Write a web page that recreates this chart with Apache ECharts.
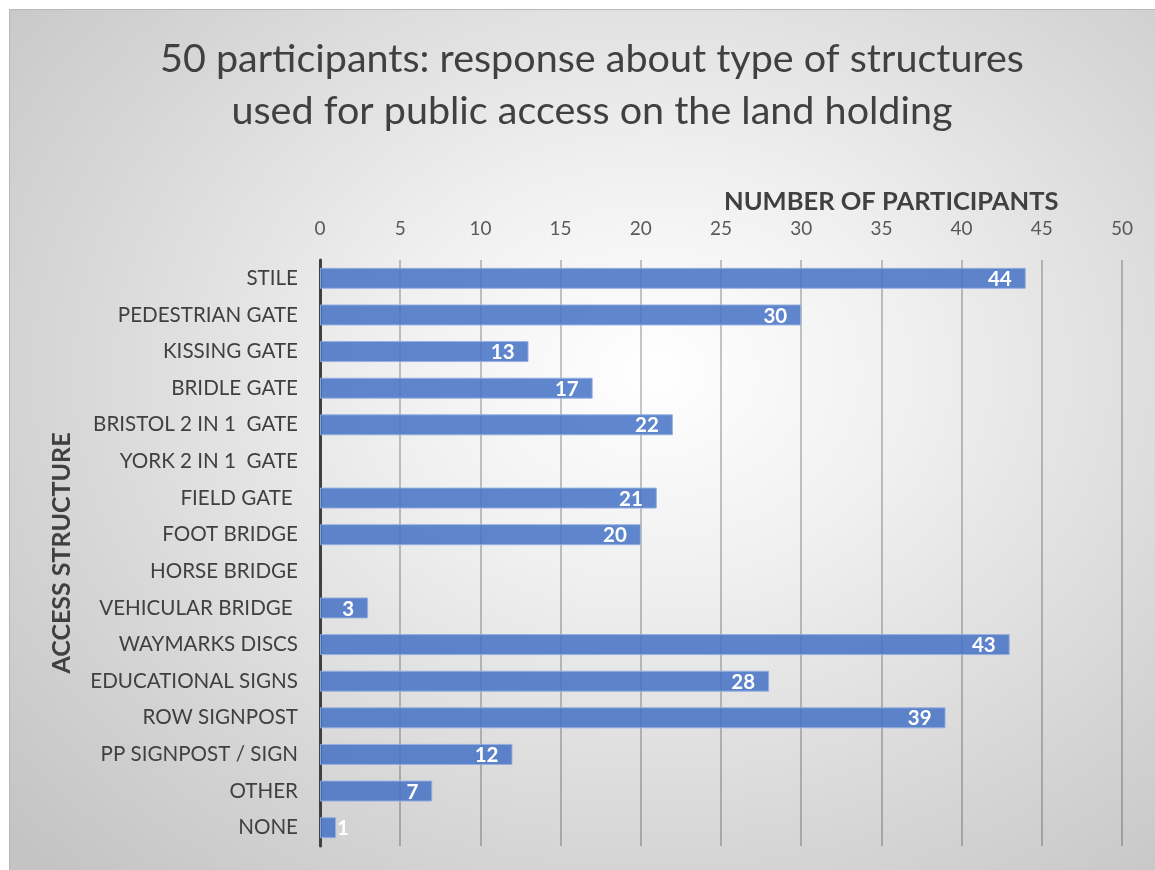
<!DOCTYPE html>
<html>
<head>
<meta charset="utf-8">
<script src="https://cdn.jsdelivr.net/npm/echarts@6/dist/echarts.min.js"></script>
<style>
  html, body { margin: 0; padding: 0; background: #ffffff; width: 1155px; height: 870px; overflow: hidden; }
  #frame {
    position: absolute; left: 9px; top: 9px; width: 1146px; height: 861px;
    border-top: 1px solid #b8b8b8; border-left: 1px solid #b8b8b8;
    background: radial-gradient(ellipse 75% 80% at 56% 42%, #ffffff 0%, #f0f0f0 30%, #d6d6d6 70%, #c4c4c4 100%);
  }
  #chart { position: absolute; left: 0; top: 0; width: 1146px; height: 861px; }
</style>
</head>
<body>
<div id="frame"><div id="chart"></div></div>
<script>
// Access structures, listed top to bottom
const categories = [
  'STILE', 'PEDESTRIAN GATE', 'KISSING GATE', 'BRIDLE GATE', 'BRISTOL 2 IN 1  GATE',
  'YORK 2 IN 1  GATE', 'FIELD GATE ', 'FOOT BRIDGE', 'HORSE BRIDGE', 'VEHICULAR BRIDGE ',
  'WAYMARKS DISCS', 'EDUCATIONAL SIGNS', 'ROW SIGNPOST', 'PP SIGNPOST / SIGN', 'OTHER', 'NONE'
];
// Number of participants reporting each structure
const participants = [44, 30, 13, 17, 22, 0, 21, 20, 0, 3, 43, 28, 39, 12, 7, 1];

const titleLines = ['50 participants: response about type of structures', 'used for public access on the land holding'];
const xAxisTitle = 'NUMBER OF PARTICIPANTS';
const yAxisTitle = 'ACCESS STRUCTURE';

const font = 'Lato, "Open Sans", sans-serif';

const chart = echarts.init(document.getElementById('chart'), null, { renderer: 'canvas' });

chart.setOption({
  backgroundColor: 'transparent',
  animation: false,
  title: {
    text: titleLines.join('\n'),
    left: 577, top: 18, textAlign: 'center',
    textStyle: { fontFamily: font, fontSize: 39.5, fontWeight: 'normal', color: '#404040', lineHeight: 52 }
  },
  graphic: [{
    type: 'text', left: 714, top: 179,
    style: { text: xAxisTitle, font: 'bold 25.5px ' + font, fill: '#404040' }
  }],
  grid: { left: 310, right: 34, top: 250, bottom: 25, containLabel: false },
  xAxis: {
    type: 'value', position: 'top', min: 0, max: 50, interval: 5,
    axisLine: { show: false }, axisTick: { show: false },
    axisLabel: { fontFamily: font, fontSize: 19, color: '#595959', margin: 22 },
    splitLine: { show: true, lineStyle: { color: 'rgba(0,0,0,0.22)', width: 2 } }
  },
  yAxis: {
    type: 'category', inverse: true, data: categories,
    name: yAxisTitle, nameLocation: 'middle', nameGap: 246, nameRotate: 90,
    nameTextStyle: { fontFamily: font, fontSize: 25, fontWeight: 'bold', color: '#404040' },
    axisLine: { show: true, lineStyle: { color: '#404040', width: 3 } },
    axisTick: { show: false },
    axisLabel: { fontFamily: font, fontSize: 20.6, color: '#404040', margin: 22 }
  },
  series: [{
    type: 'bar',
    barWidth: 21,
    data: participants.map(v => ({
      value: v,
      itemStyle: v === 0 ? { borderWidth: 0 } : undefined,
      label: v < 2 ? { position: 'right', distance: 1 } : undefined
    })),
    itemStyle: { color: 'rgba(68,114,196,0.85)', borderColor: 'rgba(150,175,225,0.9)', borderWidth: 1 },
    label: {
      show: true, position: 'insideRight', distance: 14, offset: [0, 1],
      fontFamily: font, fontSize: 20.5, fontWeight: 'bold', color: '#ffffff',
      formatter: p => (p.value > 0 ? String(p.value) : '')
    }
  }]
});
</script>
</body>
</html>
